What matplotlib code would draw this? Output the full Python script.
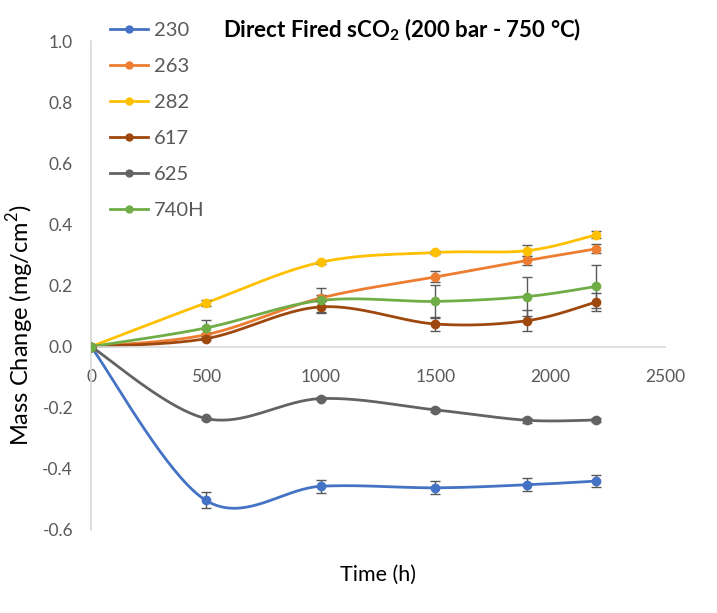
import matplotlib
matplotlib.use("Agg")
import matplotlib.pyplot as plt
from matplotlib.lines import Line2D
import numpy as np

plt.rcParams["font.family"] = ["Lato", "DejaVu Sans"]
plt.rcParams["mathtext.fontset"] = "custom"
plt.rcParams["mathtext.rm"] = "Lato"
plt.rcParams["mathtext.bf"] = "Lato:bold"

# data
time_h = [0, 500, 1000, 1500, 1900, 2200]
alloys = ["230", "263", "282", "617", "625", "740H"]
mass_230 = [0.0, -0.503, -0.457, -0.462, -0.452, -0.440]
mass_263 = [0.0, 0.039, 0.159, 0.228, 0.282, 0.320]
mass_282 = [0.0, 0.143, 0.276, 0.308, 0.314, 0.366]
mass_617 = [0.0, 0.026, 0.130, 0.074, 0.085, 0.146]
mass_625 = [0.0, -0.235, -0.170, -0.207, -0.241, -0.240]
mass_740 = [0.0, 0.061, 0.151, 0.148, 0.164, 0.197]
err_230 = [0.0, 0.026, 0.022, 0.021, 0.021, 0.020]
err_263 = [0.0, 0.005, 0.010, 0.018, 0.015, 0.015]
err_282 = [0.0, 0.010, 0.005, 0.005, 0.018, 0.012]
err_617 = [0.0, 0.005, 0.018, 0.023, 0.035, 0.028]
err_625 = [0.0, 0.006, 0.006, 0.006, 0.008, 0.008]
err_740 = [0.0, 0.027, 0.042, 0.053, 0.063, 0.071]
colors = ["#4472C4", "#ED7D31", "#FFC000", "#9E480E", "#636363", "#70AD47"]

series = [mass_230, mass_263, mass_282, mass_617, mass_625, mass_740]
errors = [err_230, err_263, err_282, err_617, err_625, err_740]


def smooth(x, y, n=40):
    # excel-style smoothed line: bezier through the points
    p = np.column_stack([x, y]).astype(float)
    ext = np.vstack([p[0], p, p[-1]])
    out = []
    for i in range(len(p) - 1):
        p0, p1, p2, p3 = ext[i], ext[i + 1], ext[i + 2], ext[i + 3]
        c1 = p1 + (p2 - p0) / 6
        c2 = p2 - (p3 - p1) / 6
        t = np.linspace(0, 1, n)[:, None]
        seg = ((1 - t) ** 3 * p1 + 3 * (1 - t) ** 2 * t * c1
               + 3 * (1 - t) * t ** 2 * c2 + t ** 3 * p2)
        out.append(seg if i == 0 else seg[1:])
    seg = np.vstack(out)
    return seg[:, 0], seg[:, 1]


fig = plt.figure(figsize=(7.17, 6.13), dpi=100)
ax = fig.add_axes([0.127, 0.1354, 0.8006, 0.7977])

for vals, err, c in zip(series, errors, colors):
    sx, sy = smooth(time_h, vals)
    ax.plot(sx, sy, color=c, lw=2, solid_capstyle="round", zorder=2)
    ax.errorbar(time_h, vals, yerr=err, fmt="none", ecolor="#595959",
                elinewidth=1, capsize=3.5, capthick=1, zorder=3)
    ax.plot(time_h, vals, "o", color=c, ms=6, zorder=4)

ax.set_xlim(0, 2500)
ax.set_ylim(-0.6, 1.0)
ax.set_xticks([0, 500, 1000, 1500, 2000, 2500])
ax.set_yticks(np.arange(-0.6, 1.01, 0.2))
ax.set_yticklabels([f"{v:.1f}" for v in np.arange(-0.6, 1.01, 0.2)])

ax.spines["top"].set_visible(False)
ax.spines["right"].set_visible(False)
ax.spines["bottom"].set_position(("data", 0))
for s in ["left", "bottom"]:
    ax.spines[s].set_color("#D9D9D9")
    ax.spines[s].set_linewidth(1.2)
ax.tick_params(length=0, labelsize=12.5, labelcolor="#595959")
ax.tick_params(axis="x", pad=16)
ax.tick_params(axis="y", pad=13)

fig.text(0.028, 0.47, "Mass Change (mg/cm$^2$)", rotation=90, fontsize=17,
         ha="center", va="center")
fig.text(0.527, 0.062, "Time (h)", fontsize=15.5, ha="center", va="center")
fig.text(0.561, 0.951, r"Direct Fired sCO$_\mathbf{2}$ (200 bar - 750 °C)",
         fontsize=16, fontweight="bold", ha="center", va="center")

handles = [Line2D([0], [0], color=c, lw=2, marker="o", ms=5) for c in colors]
leg = fig.legend(handles, alloys, loc="upper left", bbox_to_anchor=(0.128, 0.994),
                 frameon=False, fontsize=14.5, handlelength=1.9, handletextpad=0.3,
                 labelspacing=0.94, labelcolor="#595959")

fig.savefig("out.png", dpi=100)
